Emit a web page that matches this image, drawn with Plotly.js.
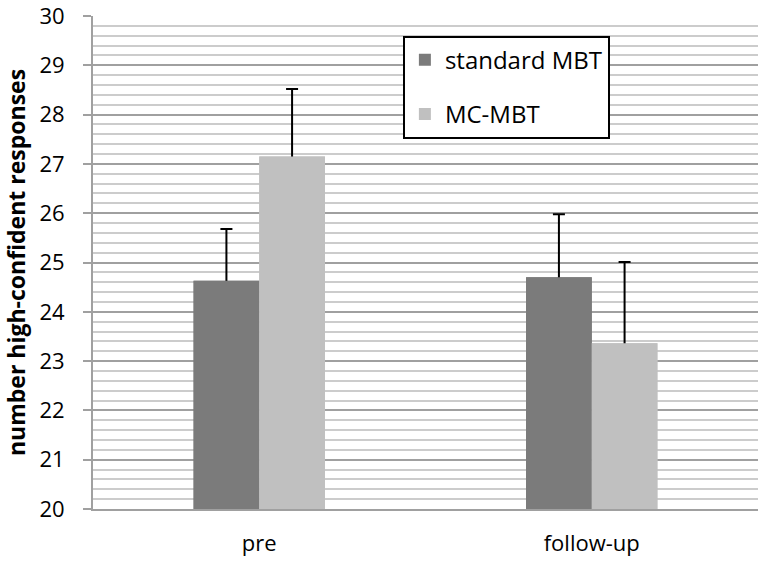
<!DOCTYPE html>
<html>
<head>
<meta charset="utf-8">
<script src="https://cdn.plot.ly/plotly-3.0.1.min.js"></script>
<style>html,body{margin:0;padding:0;background:#fff;}#chart{width:758px;height:562px;}</style>
</head>
<body>
<div id="chart"></div>
<script>
var categories = ["pre", "follow-up"];
var seriesNames = ["standard MBT", "MC-MBT"];
var standardMBT = [24.63, 24.70];
var mcMBT = [27.15, 23.36];
var standardErr = [1.05, 1.28];
var mcErr = [1.37, 1.65];
var yTicks = [20, 21, 22, 23, 24, 25, 26, 27, 28, 29, 30];

var font = "Open Sans, Noto Sans, sans-serif";
var colors = ["#7b7b7b", "#c0c0c0"];

function errTrace(y, err, i) {
  return {
    type: "bar", x: categories, y: y, offsetgroup: String(i), showlegend: false,
    marker: {color: colors[i]}, hoverinfo: "skip",
    error_y: {type: "data", symmetric: true, array: err, color: "#000", thickness: 2, width: 6}
  };
}
function barTrace(y, i) {
  return {
    type: "bar", name: seriesNames[i], x: categories, y: y, offsetgroup: String(i),
    marker: {color: colors[i]}, legendgroup: "g" + i
  };
}

var traces = [
  errTrace(standardMBT, standardErr, 0),
  errTrace(mcMBT, mcErr, 1),
  barTrace(standardMBT, 0),
  barTrace(mcMBT, 1)
];

var layout = {
  width: 758, height: 562,
  margin: {l: 93, r: 0, t: 16, b: 53},
  paper_bgcolor: "#fff", plot_bgcolor: "#fff",
  barmode: "group", bargap: 0.605, bargroupgap: 0,
  font: {family: font, color: "#000"},
  showlegend: true,
  legend: {
    x: 0.466, y: 0.96, xanchor: "left", yanchor: "top",
    bgcolor: "#fff", bordercolor: "#000", borderwidth: 2,
    font: {size: 24, family: font},
    traceorder: "grouped", tracegroupgap: 20,
    itemwidth: 30
  },
  xaxis: {
    type: "category",
    showgrid: false, showline: true, linecolor: "#a0a0a0", linewidth: 2,
    ticks: "outside", ticklen: 14, tickcolor: "rgba(0,0,0,0)",
    tickfont: {size: 22, family: font}, zeroline: false
  },
  yaxis: {
    range: [20, 30], tickvals: yTicks, ticktext: yTicks.map(String),
    showline: true, linecolor: "#a0a0a0", linewidth: 2,
    ticks: "outside", ticklen: 8, tickcolor: "#a0a0a0", tickwidth: 2,
    ticklabelstandoff: 14, ticklabeloverflow: "allow",
    showgrid: true, gridcolor: "#a0a0a0", gridwidth: 2,
    minor: {dtick: 0.2, showgrid: true, gridcolor: "#cccccc", gridwidth: 2, ticks: ""},
    tickfont: {size: 22, family: font}, zeroline: false,
    title: {text: "number high-confident responses", font: {size: 23, family: font, weight: "bold"}, standoff: 8}
  }
};

Plotly.newPlot("chart", traces, layout, {staticPlot: true, displayModeBar: false});
</script>
</body>
</html>
